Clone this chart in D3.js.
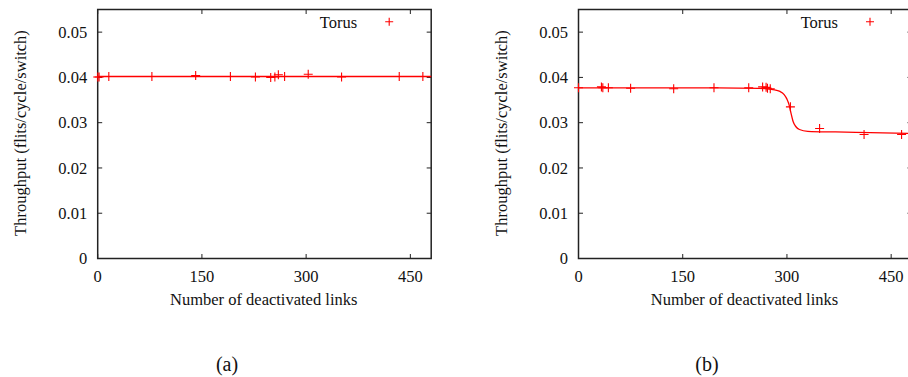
<!DOCTYPE html>
<html>
<head>
<meta charset="utf-8">
<script src="https://cdn.jsdelivr.net/npm/d3@7"></script>
<style>
    body { margin:0; background:#fff; }
</style>
</head>
<body>
<svg id="canvas" width="908" height="377"></svg>
<script>
(function(window) {
    'use strict';

    /* ---- data ---- */
    var xTicks = [0, 150, 300, 450],
        yTicks = [0, 0.01, 0.02, 0.03, 0.04, 0.05];

    var seriesName = 'Torus';

    // (a) measured points
    var linksA = [0, 2, 16, 78, 141, 191, 227, 249, 255, 260, 269, 303, 351, 434, 468],
        thruA  = [0.0401, 0.0401, 0.0402, 0.0402, 0.0404, 0.0402, 0.0401, 0.0400, 0.0401, 0.0406, 0.0402, 0.0407, 0.0401, 0.0402, 0.0402];

    // (a) fitted curve
    var fitLinksA = [0, 480],
        fitThruA  = [0.0402, 0.0402];

    // (b) measured points
    var linksB = [0, 33, 35, 43, 75, 137, 195, 245, 265, 270, 272, 276, 305, 347, 411, 465],
        thruB  = [0.0377, 0.0379, 0.0377, 0.0377, 0.0376, 0.0375, 0.0377, 0.0377, 0.0379, 0.0378, 0.0376, 0.0375, 0.0335, 0.0287, 0.0274, 0.0274];

    // (b) fitted curve
    var fitLinksB = [0, 200, 260, 280, 290, 296, 300, 303, 306, 309, 313, 318, 330, 370, 420, 480],
        fitThruB  = [0.0377, 0.0377, 0.0376, 0.0373, 0.0369, 0.0362, 0.0352, 0.0340, 0.0320, 0.0302, 0.0291, 0.0285, 0.0281, 0.02795, 0.0278, 0.0276];

    var FONT = "'Liberation Serif', 'Times New Roman', Times, 'DejaVu Serif', serif";

    var svg = d3.select('#canvas')
        .attr('font-family', FONT);

    function zip(xs, ys) {
        return xs.map(function(d, i) { return [d, ys[i]]; });
    }

    function label(sel, size) {
        return sel.append('text')
            .style('font-family', FONT)
            .style('font-size', size + 'px')
            .attr('fill', '#111');
    }

    function cross(sel, r) {
        sel.append('path')
            .attr('d', 'M' + (-r) + ' 0 H' + r + ' M0 ' + (-r) + ' V' + r)
            .attr('stroke', '#ff0000')
            .attr('stroke-width', 1.1)
            .attr('fill', 'none');
    }

    /******************************************************************
        one gnuplot-like panel
     ******************************************************************/
    function panel(o) {
        var g = svg.append('g')
            .attr('transform', 'translate(' + [o.left, 0] + ')');

        var W = 333.5, top = 9.5, bottom = 258.5, fs = 16.5;

        var x = d3.scaleLinear().domain([0, 480]).range([0, W]),
            y = d3.scaleLinear().domain([0, 0.055]).range([bottom, top]);

        var tick = 4.5;

        // ticks, mirrored on all sides, pointing inward
        var ticks = g.append('g')
            .attr('stroke', '#222')
            .attr('stroke-width', 1);

        yTicks.forEach(function(v) {
            ticks.append('line')
                .attr('x1', 0).attr('x2', tick)
                .attr('y1', y(v)).attr('y2', y(v));
            ticks.append('line')
                .attr('x1', W - tick).attr('x2', W)
                .attr('y1', y(v)).attr('y2', y(v));
        });

        xTicks.forEach(function(v) {
            ticks.append('line')
                .attr('x1', x(v)).attr('x2', x(v))
                .attr('y1', bottom).attr('y2', bottom - tick);
            ticks.append('line')
                .attr('x1', x(v)).attr('x2', x(v))
                .attr('y1', top).attr('y2', top + tick);
        });

        g.append('rect')
            .attr('x', 0)
            .attr('y', top)
            .attr('width', W)
            .attr('height', bottom - top)
            .attr('fill', 'none')
            .attr('stroke', '#222')
            .attr('stroke-width', 1.5);

        yTicks.forEach(function(v) {
            label(g, fs)
                .attr('x', -10.5)
                .attr('y', y(v))
                .attr('dy', '0.35em')
                .attr('text-anchor', 'end')
                .text(v === 0 ? '0' : d3.format('.2f')(v));
        });

        xTicks.forEach(function(v) {
            label(g, fs)
                .attr('x', x(v))
                .attr('y', 282)
                .attr('text-anchor', 'middle')
                .text(v);
        });

        label(g, fs)
            .attr('transform', 'translate(' + [-77, 133] + ') rotate(-90)')
            .attr('dy', '0.35em')
            .attr('text-anchor', 'middle')
            .text('Throughput (flits/cycle/switch)');

        label(g, fs)
            .attr('x', 166)
            .attr('y', 305)
            .attr('text-anchor', 'middle')
            .text('Number of deactivated links');

        // fitted curve
        var line = d3.line()
            .x(function(d) { return x(d[0]); })
            .y(function(d) { return y(d[1]); })
            .curve(d3.curveMonotoneX);

        g.append('path')
            .datum(zip(o.fitX, o.fitY))
            .attr('d', line)
            .attr('fill', 'none')
            .attr('stroke', '#ff0000')
            .attr('stroke-width', 1.3);

        // measured points
        g.selectAll('.pt')
            .data(zip(o.ptX, o.ptY)).enter()
                .append('g')
                    .attr('class', 'pt')
                    .attr('transform', function(d) { return 'translate(' + [x(d[0]), y(d[1])] + ')'; })
                    .each(function() { cross(d3.select(this), 4.5); });

        // legend
        label(g, fs)
            .attr('x', 259.5)
            .attr('y', 27.5)
            .attr('text-anchor', 'end')
            .text(seriesName);

        cross(g.append('g').attr('transform', 'translate(' + [291.5, 21.7] + ')'), 4);

        // caption
        label(svg, 20)
            .attr('x', o.capX)
            .attr('y', 371)
            .attr('text-anchor', 'middle')
            .text(o.caption);
    }

    panel({ left:97.7, ptX:linksA, ptY:thruA, fitX:fitLinksA, fitY:fitThruA, capX:227, caption:'(a)' });
    panel({ left:578.5, ptX:linksB, ptY:thruB, fitX:fitLinksB, fitY:fitThruB, capX:707, caption:'(b)' });

})(window);
</script>
</body>
</html>
